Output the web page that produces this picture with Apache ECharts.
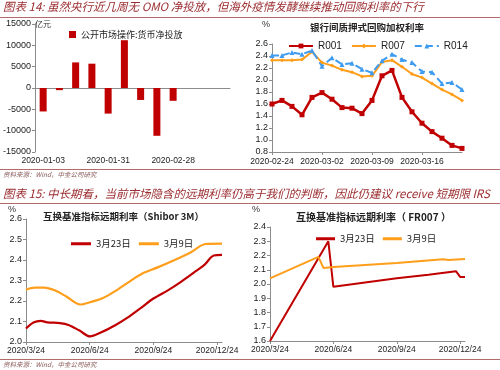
<!DOCTYPE html>
<html><head><meta charset="utf-8">
<script src="https://cdn.jsdelivr.net/npm/echarts@6/dist/echarts.min.js"></script>
<style>html,body{margin:0;padding:0;background:#fff}#c{width:500px;height:370px}</style>
</head><body><div id="c"></div>
<script>
// ---- Chart 14 left: OMO net injection (亿元)
const omoDates = ['2020-01-03','2020-01-10','2020-01-17','2020-01-24','2020-01-31','2020-02-07','2020-02-14','2020-02-21','2020-02-28','2020-03-06','2020-03-13','2020-03-20'];
const omoValues = [-5500,-500,6000,5700,-6000,11200,-2800,-11200,-3000,0,0,0];
// ---- Chart 14 right: repo weighted rates (%)
const repoDates = ['2020-02-24','2020-02-25','2020-02-26','2020-02-27','2020-02-28','2020-03-02','2020-03-03','2020-03-04','2020-03-05','2020-03-06','2020-03-09','2020-03-10','2020-03-11','2020-03-12','2020-03-13','2020-03-16','2020-03-17','2020-03-18','2020-03-19','2020-03-20'];
const r001 = [1.60,1.66,1.56,1.42,1.71,1.79,1.68,1.54,1.53,1.44,1.66,2.07,2.16,1.71,1.47,1.28,1.14,1.03,0.91,0.86];
const r007 = [2.33,2.33,2.33,2.34,2.47,2.29,2.24,2.17,2.13,2.06,2.07,2.30,2.33,2.22,2.10,2.04,1.94,1.84,1.76,1.66];
const r014 = [2.41,2.41,2.46,2.43,2.49,2.23,2.37,2.26,2.28,2.18,2.12,2.32,2.43,2.34,2.29,2.14,2.13,1.94,1.96,1.84];
// ---- Chart 15: forward curves, x = months after 2020/3/24
const fwdTickLabels = ['2020/3/24','2020/6/24','2020/9/24','2020/12/24'];
const shiborM23 = [0,0.35,0.7,1.0,1.6,2.0,2.5,3.02,3.5,4.2,4.8,5.4,6.0,6.7,7.3,7.9,8.4,8.84,9.23];
const shiborV23 = [2.066,2.095,2.103,2.096,2.092,2.083,2.057,2.027,2.045,2.082,2.12,2.165,2.212,2.253,2.293,2.338,2.376,2.422,2.425];
const shiborM09 = [0,0.4,0.85,1.35,1.9,2.55,3.05,3.6,4.2,4.8,5.5,6.2,7.0,7.75,8.45,9.23];
const shiborV09 = [2.255,2.265,2.265,2.252,2.222,2.183,2.195,2.213,2.248,2.29,2.335,2.364,2.4,2.437,2.478,2.48];
const frM23 = [0,2.76,3.0,4.5,6.0,7.5,8.8,9.0,9.23];
const frV23 = [1.60,2.30,1.98,2.01,2.04,2.065,2.09,2.05,2.05];
const frM09 = [0,2.29,2.53,3.0,6.0,8.2,8.45,9.23];
const frV09 = [2.04,2.19,2.113,2.12,2.148,2.174,2.168,2.175];

const zip = (a,b)=>a.map((x,i)=>[x,b[i]]);
const CJK = '"Noto Sans CJK SC", sans-serif';
const LAT = '"Liberation Sans", Arial, sans-serif';
const RED = '#C00000', ORG = '#FF9E1B', BLU = '#3D9BF0';
const TITLE_C = '#9B2D30', LINE_C = '#B56A6A';
const axisLineC = '#8c8c8c';
const lab = {color:'#222', fontFamily:LAT, fontSize:8.5};

const chart = echarts.init(document.getElementById('c'), null, {renderer:'canvas'});
const valAxis = (gi, min, max, interval, dec) => ({
  type:'value', gridIndex:gi, min, max, interval,
  axisLine:{show:true, lineStyle:{color:axisLineC}},
  axisTick:{show:true, length:3, lineStyle:{color:axisLineC}},
  splitLine:{show:false},
  axisLabel:Object.assign({}, lab, {fontSize:9, margin:4, formatter: v => dec ? v.toFixed(dec) : String(v)})
});
const fwdX = gi => ({
  type:'value', gridIndex:gi, min:0, max:9.23,
  axisLine:{show:true, onZero:false, lineStyle:{color:axisLineC}},
  axisTick:{show:true, length:3, customValues:[0,3,6,9], lineStyle:{color:axisLineC}},
  splitLine:{show:false},
  axisLabel:Object.assign({}, lab, {margin:4, customValues:[0,3,6,9], formatter: v => fwdTickLabels[Math.round(v/3)] || ''})
});

const option = {
  animation:false,
  grid:[
    {left:34, top:24, width:196, height:128},
    {left:272, top:44, width:190, height:108},
    {left:26, top:219, width:196, height:123},
    {left:270, top:227, width:195, height:114}
  ],
  xAxis:[
    {type:'category', gridIndex:0, data:omoDates, boundaryGap:true,
     axisLine:{onZero:true, lineStyle:{color:axisLineC}}, axisTick:{length:3, lineStyle:{color:axisLineC}},
     axisLabel:{show:false}},
    {type:'category', gridIndex:1, data:repoDates, boundaryGap:false,
     axisLine:{lineStyle:{color:axisLineC}}, axisTick:{length:3, interval:4, lineStyle:{color:axisLineC}},
     axisLabel:Object.assign({}, lab, {interval:4, margin:5, showMinLabel:true, hideOverlap:false})},
    fwdX(2), fwdX(3),
    {type:'category', gridIndex:0, data:omoDates, position:'bottom', boundaryGap:true,
     axisLine:{show:false, onZero:false}, axisTick:{show:false},
     axisLabel:Object.assign({}, lab, {interval:3, margin:4})}
  ],
  yAxis:[
    valAxis(0,-15000,15000,5000,0),
    valAxis(1,0.8,2.6,0.2,1),
    valAxis(2,2.0,2.6,0.1,1),
    valAxis(3,1.6,2.4,0.1,1)
  ],
  legend:[
    {data:['公开市场操作:货币净投放'], left:64, top:25, itemWidth:7, itemHeight:7, icon:'rect', itemGap:4,
     textStyle:{fontFamily:CJK, fontSize:9, color:'#222'}},
    {data:['R001','R007','R014'], left:283, top:36, itemWidth:24, itemHeight:6, itemGap:9,
     textStyle:{fontFamily:LAT, fontSize:10, color:'#222'}},
    {data:['3月23日','3月9日'], left:66, top:234, itemWidth:20, itemHeight:3, itemGap:8, icon:'rect',
     textStyle:{fontFamily:CJK, fontSize:9.5, color:'#222'}},
    {data:['3月23日','3月9日'], left:311, top:229, itemWidth:19, itemHeight:3, itemGap:8, icon:'rect',
     textStyle:{fontFamily:CJK, fontSize:9.5, color:'#222'}}
  ],
  series:[
    {name:'公开市场操作:货币净投放', type:'bar', xAxisIndex:0, yAxisIndex:0, data:omoValues, barWidth:7, itemStyle:{color:RED}},
    {name:'R001', type:'line', xAxisIndex:1, yAxisIndex:1, data:r001, symbol:'rect', symbolSize:5,
     lineStyle:{color:RED, width:2.5}, itemStyle:{color:RED}},
    {name:'R007', type:'line', xAxisIndex:1, yAxisIndex:1, data:r007, symbol:'diamond', symbolSize:4,
     lineStyle:{color:ORG, width:2}, itemStyle:{color:ORG}},
    {name:'R014', type:'line', xAxisIndex:1, yAxisIndex:1, data:r014, symbol:'triangle', symbolSize:5,
     lineStyle:{color:BLU, width:2, type:[7,4]}, itemStyle:{color:BLU}},
    {name:'3月23日', type:'line', xAxisIndex:2, yAxisIndex:2, data:zip(shiborM23,shiborV23), smooth:0.3, symbol:'none',
     lineStyle:{color:RED, width:2.2}, itemStyle:{color:RED}},
    {name:'3月9日', type:'line', xAxisIndex:2, yAxisIndex:2, data:zip(shiborM09,shiborV09), smooth:0.3, symbol:'none',
     lineStyle:{color:ORG, width:2.2}, itemStyle:{color:ORG}},
    {name:'3月23日', type:'line', xAxisIndex:3, yAxisIndex:3, data:zip(frM23,frV23), symbol:'none',
     lineStyle:{color:RED, width:2}, itemStyle:{color:RED}},
    {name:'3月9日', type:'line', xAxisIndex:3, yAxisIndex:3, data:zip(frM09,frV09), symbol:'none',
     lineStyle:{color:ORG, width:2}, itemStyle:{color:ORG}}
  ],
  graphic:[
    {type:'text', left:3, top:1, style:{text:'图表 14: 虽然央行近几周无 OMO 净投放，但海外疫情发酵继续推动回购利率的下行', fill:TITLE_C, font:'italic 11.5px '+CJK}},
    {type:'rect', shape:{x:0,y:17,width:500,height:1}, style:{fill:LINE_C}},
    {type:'text', left:35, top:20, style:{text:'亿元', fill:'#333', font:'8px '+CJK}},
    {type:'text', left:262, top:20, style:{text:'%', fill:'#333', font:'9px '+LAT}},
    {type:'text', left:310, top:23, style:{text:'银行间质押式回购加权利率', fill:'#222', font:'bold 9.5px '+CJK}},
    {type:'rect', shape:{x:0,y:169,width:500,height:1}, style:{fill:LINE_C}},
    {type:'text', left:3, top:171, style:{text:'资料来源：Wind，中金公司研究', fill:'#8a5a5a', font:'italic 6.5px '+CJK}},
    {type:'text', left:3, top:188, style:{text:'图表 15: 中长期看，当前市场隐含的远期利率仍高于我们的判断，因此仍建议 receive 短期限 IRS', fill:TITLE_C, font:'italic 11.5px '+CJK}},
    {type:'rect', shape:{x:0,y:203,width:500,height:1}, style:{fill:LINE_C}},
    {type:'text', left:8, top:205, style:{text:'%', fill:'#333', font:'9px '+LAT}},
    {type:'text', left:43, top:212, style:{text:'互换基准指标远期利率（Shibor 3M）', fill:'#222', font:'bold 9.5px '+CJK}},
    {type:'text', left:252, top:205, style:{text:'%', fill:'#333', font:'9px '+LAT}},
    {type:'text', left:296, top:212, style:{text:'互换基准指标远期利率（ FR007 ）', fill:'#222', font:'bold 10px '+CJK}},
    {type:'rect', shape:{x:0,y:359,width:500,height:1}, style:{fill:LINE_C}},
    {type:'text', left:3, top:361, style:{text:'资料来源：Wind，中金公司研究', fill:'#8a5a5a', font:'italic 6.5px '+CJK}}
  ]
};
chart.setOption(option);
</script></body></html>
